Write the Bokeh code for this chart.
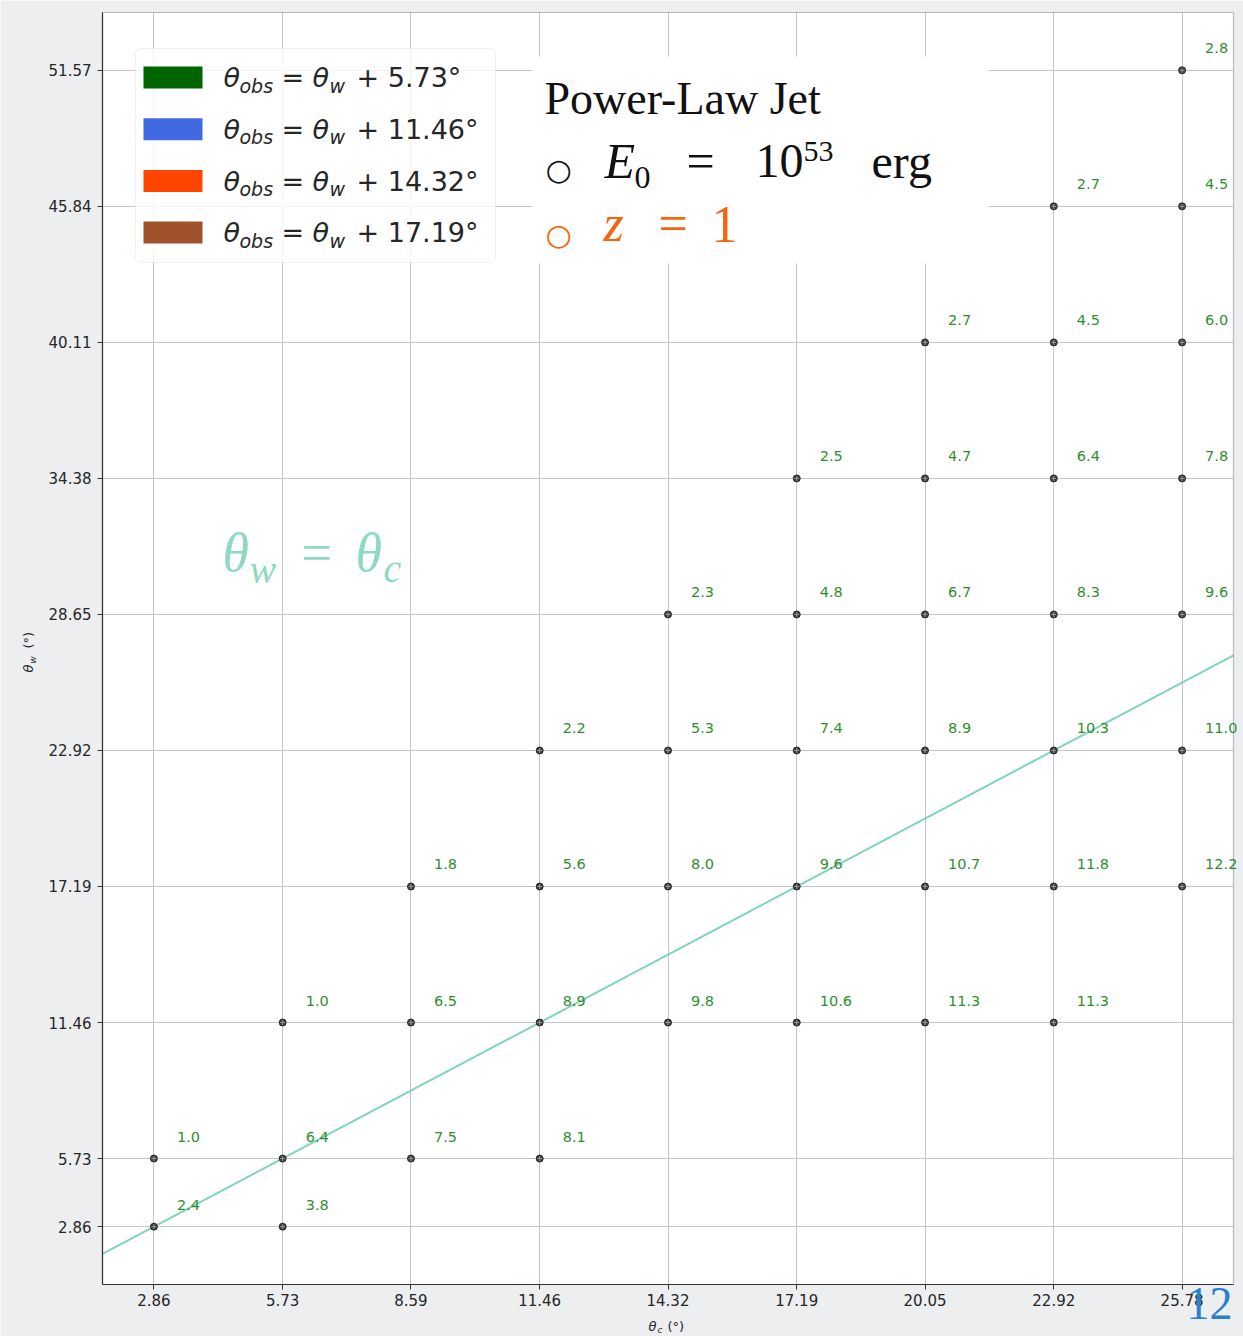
from bokeh.plotting import figure
from bokeh.models import (Range1d, FixedTicker, PrintfTickFormatter, ColumnDataSource,
                          BoxAnnotation, Label)
from bokeh.core.properties import value
from bokeh.embed import file_html
from bokeh.resources import INLINE
from math import pi

# ---- data: core / wing opening angles (deg) and the value printed at each grid node ----
theta_c = [2.86, 5.73,
           2.86, 5.73, 8.59, 11.46,
           5.73, 8.59, 11.46, 14.32, 17.19, 20.05, 22.92,
           8.59, 11.46, 14.32, 17.19, 20.05, 22.92, 25.78,
           11.46, 14.32, 17.19, 20.05, 22.92, 25.78,
           14.32, 17.19, 20.05, 22.92, 25.78,
           17.19, 20.05, 22.92, 25.78,
           20.05, 22.92, 25.78,
           22.92, 25.78,
           25.78]
theta_w = [2.86, 2.86,
           5.73, 5.73, 5.73, 5.73,
           11.46, 11.46, 11.46, 11.46, 11.46, 11.46, 11.46,
           17.19, 17.19, 17.19, 17.19, 17.19, 17.19, 17.19,
           22.92, 22.92, 22.92, 22.92, 22.92, 22.92,
           28.65, 28.65, 28.65, 28.65, 28.65,
           34.38, 34.38, 34.38, 34.38,
           40.11, 40.11, 40.11,
           45.84, 45.84,
           51.57]
node_value = [2.4, 3.8,
              1.0, 6.4, 7.5, 8.1,
              1.0, 6.5, 8.9, 9.8, 10.6, 11.3, 11.3,
              1.8, 5.6, 8.0, 9.6, 10.7, 11.8, 12.2,
              2.2, 5.3, 7.4, 8.9, 10.3, 11.0,
              2.3, 4.8, 6.7, 8.3, 9.6,
              2.5, 4.7, 6.4, 7.8,
              2.7, 4.5, 6.0,
              2.7, 4.5,
              2.8]

x_ticks = [2.86, 5.73, 8.59, 11.46, 14.32, 17.19, 20.05, 22.92, 25.78]
y_ticks = [2.86, 5.73, 11.46, 17.19, 22.92, 28.65, 34.38, 40.11, 45.84, 51.57]

legend_offsets = ["5.73", "11.46", "14.32", "17.19"]
legend_colors = ["#006400", "#4169e1", "#ff4500", "#a0522d"]

# ---- canvas geometry: the axes box sits inside a full-canvas frame ----
W, H = 1243, 1336
FL, FT, FW, FH = 102, 12, 1131, 1272

xspan = max(theta_c) - min(theta_c)
yspan = max(theta_w) - min(theta_w)
X0, X1 = min(theta_c) - 0.05 * xspan, max(theta_c) + 0.05 * xspan
Y0, Y1 = min(theta_w) - 0.05 * yspan, max(theta_w) + 0.05 * yspan


def px_x(px):
    return X0 + (px - FL) / FW * (X1 - X0)


def px_y(py):
    return Y1 - (py - FT) / FH * (Y1 - Y0)


BG = "#eceef0"
p = figure(width=W, height=H, output_backend="svg", toolbar_location=None,
           x_range=Range1d(px_x(0), px_x(W)), y_range=Range1d(px_y(H), px_y(0)),
           min_border=0)
p.border_fill_color = BG
p.background_fill_color = BG
p.outline_line_color = None

# white axes area
p.add_layout(BoxAnnotation(left=X0, right=X1, bottom=Y0, top=Y1, fill_color="white",
                           fill_alpha=1, line_color=None, level="image"))

for ax, ticks, loc, bnd in ((p.xaxis, x_ticks, Y0, (X0, X1)), (p.yaxis, y_ticks, X0, (Y0, Y1))):
    ax.fixed_location = loc
    ax.bounds = bnd
    ax.ticker = FixedTicker(ticks=ticks)
    ax.formatter = PrintfTickFormatter(format="%.2f")
    ax.major_label_text_font = "DejaVu Sans"
    ax.major_label_text_font_size = "15px"
    ax.major_label_text_color = "#262626"
    ax.axis_line_color = "#333333"
    ax.axis_line_width = 1.2
    ax.major_tick_line_color = "#333333"
    ax.major_tick_out = 5
    ax.major_tick_in = 0
    ax.minor_tick_line_color = None
p.yaxis.major_label_standoff = 6
p.xaxis.major_label_standoff = 4

p.xgrid.ticker = FixedTicker(ticks=x_ticks)
p.ygrid.ticker = FixedTicker(ticks=y_ticks)
p.xgrid.cross_bounds = (Y0, Y1)
p.ygrid.cross_bounds = (X0, X1)
p.grid.grid_line_color = "#c6c6c6"
p.grid.grid_line_width = 1

# theta_w = theta_c diagonal across the axes box
p.line([X0, X1], [X0, X1], line_color="#7fd4ba", line_width=2)

# grid nodes and their values
src = ColumnDataSource(dict(x=theta_c, y=theta_w, txt=[f"{v:.1f}" for v in node_value]))
p.scatter("x", "y", source=src, size=7, marker="circle", fill_color="#3c3c3c",
          line_color="#2a2a2a")
p.scatter("x", "y", source=src, size=5, marker="cross", line_color="#9a9a9a", line_width=1)
p.text("x", "y", text="txt", source=src, x_offset=23, y_offset=-22,
       text_font=value("DejaVu Sans"), text_font_size="14.5px", text_color="#2f8f2f",
       text_align="left", text_baseline="middle")

# axes box outline
p.add_layout(BoxAnnotation(left=X0, right=X1, bottom=Y0, top=Y1, fill_color=None,
                           line_color="#333333", line_width=1.2))


def add_text(txt, px, py, size, color="#1a1a1a", font="DejaVu Sans", style="normal",
             angle=0.0):
    # (px, py) is the baseline start of the text, in canvas pixels
    if angle:
        px -= 0.36 * size
    else:
        py -= 0.36 * size
    p.add_layout(Label(x=px_x(px), y=px_y(py), text=txt, text_font=font,
                       text_font_size=f"{size}px", text_font_style=style,
                       text_color=color, text_align="left", text_baseline="alphabetic",
                       angle=angle))


# ---- legend of observer angles ----
p.add_layout(BoxAnnotation(left=px_x(135), right=px_x(495), top=px_y(48), bottom=px_y(262),
                           fill_color="white", fill_alpha=0.8, line_color="#cfcfcf",
                           line_width=1, border_radius=5))
for i, (off, col) in enumerate(zip(legend_offsets, legend_colors)):
    base = 87 + i * 51.7
    p.add_layout(BoxAnnotation(left=px_x(143), right=px_x(202), top=px_y(base - 21),
                               bottom=px_y(base + 1), fill_color=col, fill_alpha=1,
                               line_color=None))
    add_text("θ", 223, base, 27, color="#262626", style="italic")
    add_text("obs", 239, base + 5, 19, color="#262626", style="italic")
    add_text("=", 281, base, 27, color="#262626")
    add_text("θ", 312, base, 27, color="#262626", style="italic")
    add_text("w", 329, base + 5, 19, color="#262626", style="italic")
    add_text(f"+ {off}°", 356, base, 27, color="#262626")

# ---- jet description panel ----
p.add_layout(BoxAnnotation(left=px_x(532), right=px_x(988), top=px_y(56), bottom=px_y(263),
                           fill_color="white", fill_alpha=1, line_color=None))
SERIF = "Liberation Serif"
add_text("Power-Law Jet", 544, 115, 46, color="#111111", font=SERIF)
add_text("○", 545, 180, 30, color="#111111", font="DejaVu Sans")
add_text("E", 604, 178, 50, color="#111111", font=SERIF, style="italic")
add_text("0", 634, 189, 32, color="#111111", font=SERIF)
add_text("=", 686, 178, 50, color="#111111", font=SERIF)
add_text("10", 755, 178, 48, color="#111111", font=SERIF)
add_text("53", 803, 162, 30, color="#111111", font=SERIF)
add_text("erg", 871, 178, 48, color="#111111", font=SERIF)
ORANGE = "#f5650f"
add_text("○", 545, 245, 30, color=ORANGE, font="DejaVu Sans")
add_text("z", 603, 242, 52, color=ORANGE, font=SERIF, style="italic")
add_text("=", 658, 242, 52, color=ORANGE, font=SERIF)
add_text("1", 711, 243, 52, color=ORANGE, font=SERIF)

# ---- diagonal annotation ----
TEAL = "#8fd9c1"
add_text("θ", 222, 572, 54, color=TEAL, font=SERIF, style="italic")
add_text("w", 249, 583, 40, color=TEAL, font=SERIF, style="italic")
add_text("=", 301, 572, 54, color=TEAL, font=SERIF)
add_text("θ", 355, 572, 54, color=TEAL, font=SERIF, style="italic")
add_text("c", 383, 582, 40, color=TEAL, font=SERIF, style="italic")

# ---- axis titles ----
add_text("θ", 648, 1331, 13, color="#262626", style="italic")
add_text("c", 657, 1333, 9, color="#262626", style="italic")
add_text("(°)", 667, 1331, 13, color="#262626")
add_text("θ", 33, 672, 13, color="#262626", style="italic", angle=pi / 2)
add_text("w", 36, 663, 9, color="#262626", style="italic", angle=pi / 2)
add_text("(°)", 33, 648, 13, color="#262626", angle=pi / 2)

# ---- page number ----
add_text("12", 1186, 1320, 46, color="#2a80cc", font=SERIF)

open("out.html", "w").write(file_html(p, INLINE))
